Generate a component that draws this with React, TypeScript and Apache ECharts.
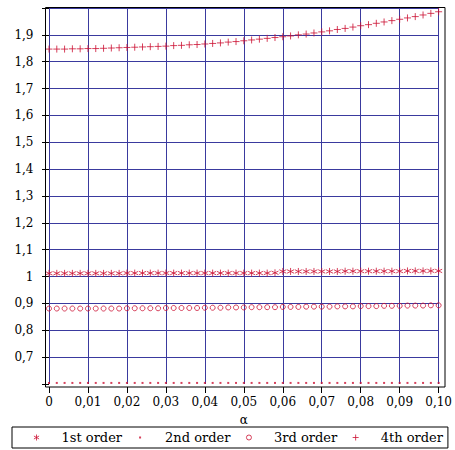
import React, { useEffect, useRef } from "react";
import * as echarts from "echarts";

const alpha = [
  0, 0.002, 0.004, 0.006, 0.008, 0.01, 0.012, 0.014, 0.016, 0.018,
  0.02, 0.022, 0.024, 0.026, 0.028, 0.03, 0.032, 0.034, 0.036, 0.038,
  0.04, 0.042, 0.044, 0.046, 0.048, 0.05, 0.052, 0.054, 0.056, 0.058,
  0.06, 0.062, 0.064, 0.066, 0.068, 0.07, 0.072, 0.074, 0.076, 0.078,
  0.08, 0.082, 0.084, 0.086, 0.088, 0.09, 0.092, 0.094, 0.096, 0.098, 0.1,
];

const firstOrder = [
  1.012, 1.012, 1.012, 1.012, 1.012, 1.012, 1.012, 1.012, 1.012, 1.012,
  1.013, 1.013, 1.013, 1.013, 1.013, 1.013, 1.013, 1.013, 1.013, 1.013,
  1.013, 1.013, 1.013, 1.013, 1.013, 1.013, 1.013, 1.013, 1.013, 1.014,
  1.019, 1.019, 1.019, 1.019, 1.019, 1.019, 1.019, 1.019, 1.020, 1.020,
  1.020, 1.020, 1.020, 1.020, 1.020, 1.020, 1.021, 1.021, 1.021, 1.021, 1.021,
];

const secondOrder = [
  0.604, 0.604, 0.604, 0.604, 0.604, 0.604, 0.604, 0.604, 0.604, 0.604,
  0.604, 0.604, 0.604, 0.604, 0.604, 0.604, 0.604, 0.604, 0.604, 0.604,
  0.604, 0.604, 0.604, 0.604, 0.604, 0.604, 0.604, 0.604, 0.604, 0.604,
  0.604, 0.604, 0.604, 0.604, 0.604, 0.604, 0.604, 0.604, 0.604, 0.604,
  0.604, 0.604, 0.604, 0.604, 0.604, 0.604, 0.604, 0.604, 0.604, 0.604, 0.604,
];

const thirdOrder = [
  0.881, 0.881, 0.881, 0.881, 0.881, 0.881, 0.881, 0.881, 0.881, 0.881,
  0.882, 0.882, 0.882, 0.882, 0.882, 0.883, 0.883, 0.883, 0.883, 0.883,
  0.884, 0.884, 0.884, 0.885, 0.885, 0.885, 0.886, 0.886, 0.886, 0.886,
  0.887, 0.887, 0.887, 0.888, 0.888, 0.888, 0.888, 0.889, 0.889, 0.889,
  0.890, 0.890, 0.890, 0.891, 0.891, 0.891, 0.892, 0.892, 0.892, 0.893, 0.893,
];

const fourthOrder = [
  1.847, 1.847, 1.847, 1.848, 1.848, 1.849, 1.849, 1.850, 1.851, 1.852,
  1.853, 1.854, 1.855, 1.856, 1.857, 1.858, 1.860, 1.861, 1.863, 1.864,
  1.866, 1.868, 1.870, 1.873, 1.875, 1.878, 1.881, 1.884, 1.887, 1.890,
  1.893, 1.896, 1.900, 1.903, 1.907, 1.911, 1.915, 1.920, 1.924, 1.929,
  1.934, 1.938, 1.943, 1.948, 1.953, 1.958, 1.963, 1.968, 1.974, 1.980, 1.986,
];

const seriesNames = ["1st order", "2nd order", "3rd order", "4th order"];

const xTickLabels = ["0", "0,01", "0,02", "0,03", "0,04", "0,05", "0,06", "0,07", "0,08", "0,09", "0,10"];
const yTickLabels = ["", "0,7", "0,8", "0,9", "1", "1,1", "1,2", "1,3", "1,4", "1,5", "1,6", "1,7", "1,8", "1,9", ""];

const RED = "#cc1133";
const BLUE = "#3a3a9e";
const FONT = "DejaVu Serif";
const NONE = "rgba(0,0,0,0)";

const starPath = "path://M5,0 L5,10 M0.67,2.5 L9.33,7.5 M0.67,7.5 L9.33,2.5";
const plusPath = "path://M0,5 L10,5 M5,0 L5,10";

const legendStar = "path://M0,0 M14,14 M7,4 L7,10 M4.4,5.5 L9.6,8.5 M4.4,8.5 L9.6,5.5";
const legendDot = "path://M0,0 M14,14 M6,6 L8,6 L8,8 L6,8 Z";
const legendCircle = "path://M0,0 M14,14 M9.5,7 A2.5,2.5 0 1 1 4.5,7 A2.5,2.5 0 1 1 9.5,7 Z";
const legendPlus = "path://M0,0 M14,14 M4,7 L10,7 M7,4 L7,10";

const pairs = (ys: number[]) => alpha.map((x, i) => [x, ys[i]]);

export default function App() {
  const ref = useRef<HTMLDivElement>(null);
  useEffect(() => {
    if (!ref.current) return;
    const chart = echarts.init(ref.current, undefined, { renderer: "svg" });
    const ySplitColors = yTickLabels.map((_, i) => (i === 0 ? NONE : BLUE));
    chart.setOption({
      animation: false,
      backgroundColor: "#ffffff",
      textStyle: { fontFamily: FONT },
      grid: { left: 49, right: 13, top: 8, bottom: 66, containLabel: false },
      xAxis: {
        type: "value",
        min: 0,
        max: 0.1,
        interval: 0.01,
        offset: 3,
        name: "α",
        nameLocation: "middle",
        nameGap: 27,
        nameTextStyle: { fontFamily: FONT, fontSize: 12, color: "#000" },
        axisLine: { show: false },
        axisTick: { show: true, length: 6, lineStyle: { color: "#000", width: 1 } },
        axisLabel: {
          margin: 9,
          fontFamily: FONT,
          fontSize: 12,
          color: "#000",
          formatter: (v: number) => xTickLabels[Math.round(v / 0.01)] ?? "",
        },
        splitLine: { show: true, lineStyle: { color: BLUE, width: 1 } },
      },
      yAxis: {
        type: "value",
        min: 0.6,
        max: 2.0,
        interval: 0.1,
        offset: 3.5,
        axisLine: { show: false },
        axisTick: { show: true, length: 7, lineStyle: { color: "#000", width: 1 } },
        axisLabel: {
          margin: 12,
          fontFamily: FONT,
          fontSize: 12,
          color: "#000",
          formatter: (v: number) => yTickLabels[Math.round((v - 0.6) / 0.1)] ?? "",
        },
        splitLine: { show: true, lineStyle: { color: ySplitColors, width: 1 } },
      },
      legend: {
        left: 12,
        top: 427,
        padding: [3, 5, 3, 17],
        itemWidth: 40,
        itemHeight: 14,
        itemGap: 11,
        borderColor: "#000",
        borderWidth: 1,
        borderRadius: 0,
        textStyle: { fontFamily: FONT, fontSize: 13, color: "#000" },
        data: [
          { name: seriesNames[0], icon: legendStar, itemStyle: { color: NONE, borderColor: RED, borderWidth: 1 } },
          { name: seriesNames[1], icon: legendDot, itemStyle: { color: RED, borderWidth: 0 } },
          { name: seriesNames[2], icon: legendCircle, itemStyle: { color: NONE, borderColor: RED, borderWidth: 1 } },
          { name: seriesNames[3], icon: legendPlus, itemStyle: { color: NONE, borderColor: RED, borderWidth: 1 } },
        ],
      },
      graphic: [
        {
          type: "rect",
          shape: { x: 45.5, y: 7.5, width: 399.5, height: 379.5 },
          style: { fill: NONE, stroke: "#000", lineWidth: 1 },
          z: 100,
          silent: true,
        },
      ],
      series: [
        {
          name: seriesNames[0],
          type: "scatter",
          symbol: starPath,
          symbolSize: 7,
          itemStyle: { color: NONE, borderColor: RED, borderWidth: 1 },
          data: pairs(firstOrder),
        },
        {
          name: seriesNames[1],
          type: "scatter",
          symbol: "rect",
          symbolSize: 2,
          itemStyle: { color: RED },
          data: pairs(secondOrder),
        },
        {
          name: seriesNames[2],
          type: "scatter",
          symbol: "circle",
          symbolSize: 5,
          itemStyle: { color: NONE, borderColor: RED, borderWidth: 1 },
          data: pairs(thirdOrder),
        },
        {
          name: seriesNames[3],
          type: "scatter",
          symbol: plusPath,
          symbolSize: 7,
          itemStyle: { color: NONE, borderColor: RED, borderWidth: 1 },
          data: pairs(fourthOrder),
        },
      ],
    });
    return () => chart.dispose();
  }, []);
  return (
    <div
      ref={ref}
      style={{ position: "absolute", left: 0, top: 0, width: 455, height: 450, background: "#fff" }}
    />
  );
}
